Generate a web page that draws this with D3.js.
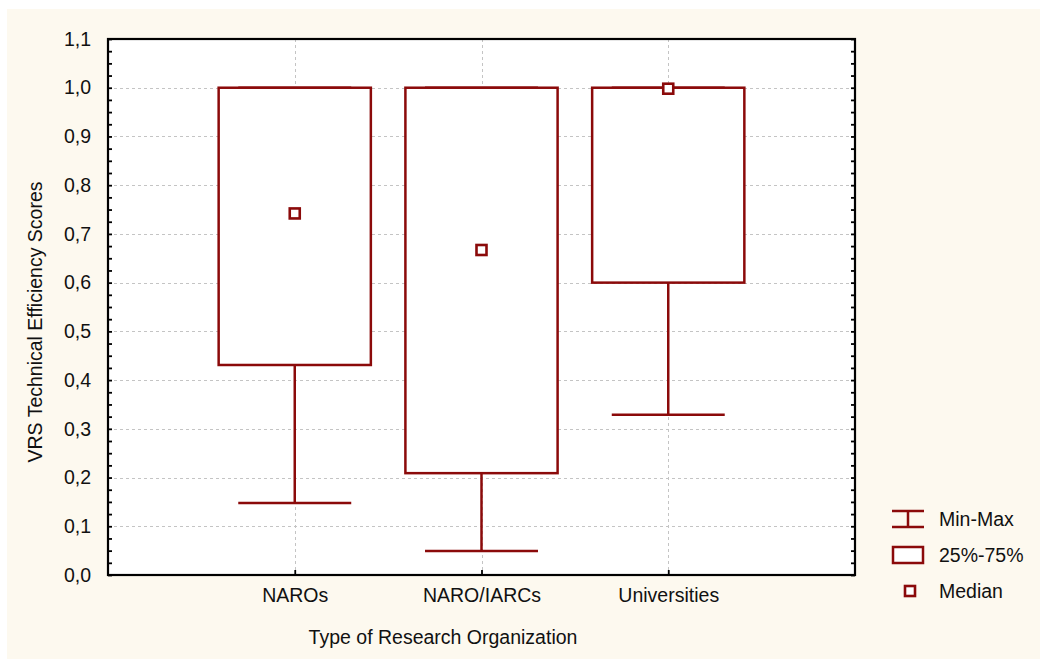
<!DOCTYPE html>
<html>
<head>
<meta charset="utf-8">
<script src="https://cdn.jsdelivr.net/npm/d3@7"></script>
<style>
  html, body { margin: 0; padding: 0; background: #ffffff; }
  svg { display: block; }
  text { font-family: "Liberation Sans", Arial, sans-serif; fill: #111; }
</style>
</head>
<body>
<script>
// ---- Data ----
const categories = ["NAROs", "NARO/IARCs", "Universities"];
const minVals    = [0.148, 0.049, 0.329];
const q1Vals     = [0.431, 0.209, 0.600];
const medianVals = [0.742, 0.667, 0.998];
const q3Vals     = [1.000, 1.000, 1.000];
const maxVals    = [1.000, 1.000, 1.000];
const yTickValues = [0, 0.1, 0.2, 0.3, 0.4, 0.5, 0.6, 0.7, 0.8, 0.9, 1.0, 1.1];
const legendLabels = ["Min-Max", "25%-75%", "Median"];
const yAxisTitle = "VRS Technical Efficiency Scores";
const xAxisTitle = "Type of Research Organization";

// ---- Layout ----
const W = 1040, H = 659;
const plot = { left: 108, right: 855, top: 39, bottom: 575 };
const red = "#8b0a0a";
const fontSize = 19.5;

const svg = d3.select("body").append("svg").attr("width", W).attr("height", H);

// cream background
svg.append("rect").attr("x", 7).attr("y", 9).attr("width", W - 7).attr("height", H - 9).attr("fill", "#fdf9ef");
// plot background
svg.append("rect").attr("x", plot.left).attr("y", plot.top)
  .attr("width", plot.right - plot.left).attr("height", plot.bottom - plot.top).attr("fill", "#ffffff");

const y = d3.scaleLinear().domain([0, 1.1]).range([plot.bottom, plot.top]);
const x = d3.scalePoint().domain(categories).range([plot.left, plot.right]).padding(1);
const step = x.step();
const boxW = step * 0.815;
const capW = step * 0.605;
const sw = 2.5;

// gridlines
const grid = svg.append("g").attr("stroke", "#c4c4c4").attr("stroke-width", 1).attr("stroke-dasharray", "3,3");
grid.selectAll("line.h").data(yTickValues.filter(v => v > 0 && v < 1.1)).join("line")
  .attr("x1", plot.left).attr("x2", plot.right)
  .attr("y1", d => Math.round(y(d)) + 0.5).attr("y2", d => Math.round(y(d)) + 0.5);
grid.selectAll("line.v").data(categories).join("line")
  .attr("x1", d => Math.round(x(d)) + 0.5).attr("x2", d => Math.round(x(d)) + 0.5)
  .attr("y1", plot.top).attr("y2", plot.bottom);

// data rows
const rows = categories.map((c, i) => ({ c, min: minVals[i], q1: q1Vals[i], med: medianVals[i], q3: q3Vals[i], max: maxVals[i] }));

const g = svg.append("g");
// whiskers
rows.forEach(r => {
  const cx = x(r.c);
  g.append("line").attr("x1", cx).attr("x2", cx).attr("y1", y(r.q1)).attr("y2", y(r.min))
    .attr("stroke", red).attr("stroke-width", sw);
  g.append("line").attr("x1", cx).attr("x2", cx).attr("y1", y(r.q3)).attr("y2", y(r.max))
    .attr("stroke", red).attr("stroke-width", sw);
  g.append("line").attr("x1", cx - capW / 2).attr("x2", cx + capW / 2).attr("y1", y(r.min)).attr("y2", y(r.min))
    .attr("stroke", red).attr("stroke-width", sw);
  g.append("line").attr("x1", cx - capW / 2).attr("x2", cx + capW / 2).attr("y1", y(r.max)).attr("y2", y(r.max))
    .attr("stroke", red).attr("stroke-width", sw);
});
// boxes
g.selectAll("rect.box").data(rows).join("rect")
  .attr("x", d => x(d.c) - boxW / 2).attr("width", boxW)
  .attr("y", d => y(d.q3)).attr("height", d => y(d.q1) - y(d.q3))
  .attr("fill", "#ffffff").attr("stroke", red).attr("stroke-width", sw);
// medians
const ms = 10;
g.selectAll("rect.med").data(rows).join("rect")
  .attr("x", d => x(d.c) - ms / 2).attr("y", d => y(d.med) - ms / 2)
  .attr("width", ms).attr("height", ms)
  .attr("fill", "#ffffff").attr("stroke", red).attr("stroke-width", 2.6);

// frame
svg.append("rect").attr("x", plot.left).attr("y", plot.top)
  .attr("width", plot.right - plot.left).attr("height", plot.bottom - plot.top)
  .attr("fill", "none").attr("stroke", "#000").attr("stroke-width", 2.2);

// inward ticks (major + minor)
const minorVals = d3.range(0, 44).map(i => i * 0.025).concat([1.1]);
const leftTicks = svg.append("g").attr("transform", `translate(${plot.left},0)`)
  .call(d3.axisLeft(y).tickValues(minorVals).tickSize(-4).tickFormat(""));
const rightTicks = svg.append("g").attr("transform", `translate(${plot.right},0)`)
  .call(d3.axisRight(y).tickValues(minorVals).tickSize(-4).tickFormat(""));
const bottomTicks = svg.append("g").attr("transform", `translate(0,${plot.bottom})`)
  .call(d3.axisBottom(x).tickSize(-5).tickFormat(""));
[leftTicks, rightTicks, bottomTicks].forEach(a => {
  a.select(".domain").remove();
  a.selectAll(".tick line").attr("stroke", "#000").attr("stroke-width", 1.8);
});

// y tick labels
const yLabels = svg.append("g").attr("transform", `translate(${plot.left},0)`)
  .call(d3.axisLeft(y).tickValues(yTickValues).tickSize(0).tickPadding(17)
    .tickFormat(d => d3.format(".1f")(d).replace(".", ",")));
yLabels.select(".domain").remove();
yLabels.selectAll("text").attr("font-size", fontSize).attr("font-family", "Liberation Sans, Arial, sans-serif").attr("fill", "#111");

// x tick labels
const xLabels = svg.append("g").attr("transform", `translate(0,${plot.bottom})`)
  .call(d3.axisBottom(x).tickSize(0).tickPadding(13));
xLabels.select(".domain").remove();
xLabels.selectAll("text").attr("font-size", fontSize).attr("font-family", "Liberation Sans, Arial, sans-serif").attr("fill", "#111");

// axis titles
svg.append("text").attr("x", 443).attr("y", 644).attr("text-anchor", "middle")
  .attr("font-size", fontSize).text(xAxisTitle);
svg.append("text").attr("transform", "translate(42,322) rotate(-90)").attr("text-anchor", "middle")
  .attr("font-size", fontSize).text(yAxisTitle);

// legend
const lg = svg.append("g");
const lx0 = 892, lx1 = 924, lcx = 908;
// Min-Max icon
lg.append("line").attr("x1", lx0).attr("x2", lx1).attr("y1", 511).attr("y2", 511).attr("stroke", red).attr("stroke-width", sw);
lg.append("line").attr("x1", lx0).attr("x2", lx1).attr("y1", 527).attr("y2", 527).attr("stroke", red).attr("stroke-width", sw);
lg.append("line").attr("x1", lcx).attr("x2", lcx).attr("y1", 511).attr("y2", 527).attr("stroke", red).attr("stroke-width", sw);
// box icon
lg.append("rect").attr("x", lx0 + 1).attr("y", 547).attr("width", lx1 - lx0 - 2).attr("height", 16)
  .attr("fill", "#fff").attr("stroke", red).attr("stroke-width", sw);
// median icon
lg.append("rect").attr("x", 905).attr("y", 586).attr("width", 10).attr("height", 10)
  .attr("fill", "#fff").attr("stroke", red).attr("stroke-width", 2.6);
const legY = [519, 555, 591];
lg.selectAll("text.leg").data(legendLabels).join("text")
  .attr("x", 939).attr("y", (d, i) => legY[i]).attr("dy", "0.35em")
  .attr("font-size", fontSize).text(d => d);
</script>
</body>
</html>
